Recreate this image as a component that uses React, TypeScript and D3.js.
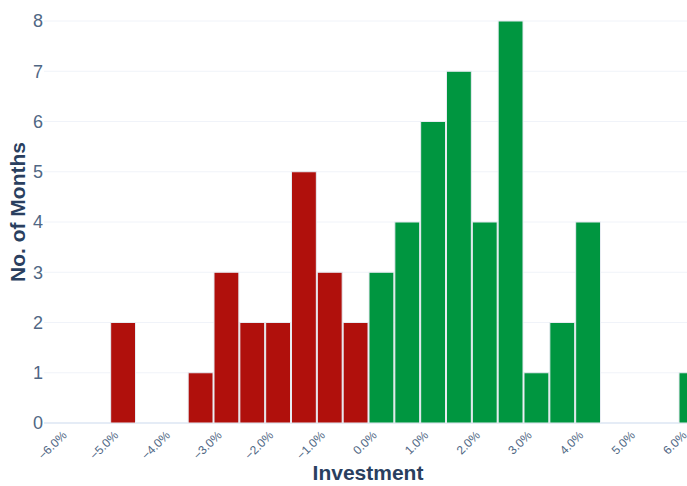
import React from "react";
import * as d3 from "d3";

const binStarts = [-5.0, -3.5, -3.0, -2.5, -2.0, -1.5, -1.0, -0.5, 0.0, 0.5, 1.0, 1.5, 2.0, 2.5, 3.0, 3.5, 4.0, 6.0];
const counts = [2, 1, 3, 2, 2, 5, 3, 2, 3, 4, 6, 7, 4, 8, 1, 2, 4, 1];
const binWidth = 0.5;
const xTicks = [-6, -5, -4, -3, -2, -1, 0, 1, 2, 3, 4, 5, 6];
const yTicks = [0, 1, 2, 3, 4, 5, 6, 7, 8];

const W = 687;
const H = 486;
const plotLeft = 44;
const plotRight = 687;

export default function App() {
  const x = d3.scaleLinear().domain([-6, 6]).range([58.5, 678.5]);
  const y = d3.scaleLinear().domain([0, 8]).range([423, 21]);
  const fmt = (v: number) => (v < 0 ? "\u2212" : "") + Math.abs(v).toFixed(1) + "%";
  return (
    <svg width={W} height={H} style={{ position: "absolute", left: 0, top: 0, fontFamily: "'Liberation Sans', Arial, sans-serif" }}>
      <rect x={0} y={0} width={W} height={H} fill="#fff" />
      <defs>
        <clipPath id="plotclip">
          <rect x={plotLeft} y={0} width={plotRight - plotLeft} height={424} />
        </clipPath>
      </defs>
      {yTicks.map((t) => (
        <line key={"g" + t} x1={plotLeft} x2={plotRight} y1={y(t)} y2={y(t)} stroke={t === 0 ? "#E5ECF6" : "#F0F3F9"} strokeWidth={t === 0 ? 2 : 1} />
      ))}
      <g clipPath="url(#plotclip)">
        {binStarts.map((b, i) => {
          const x0 = x(b);
          const x1 = x(b + binWidth);
          return (
            <rect
              key={"b" + i}
              x={x0 + 0.5}
              y={y(counts[i])}
              width={x1 - x0 - 1}
              height={y(0) - y(counts[i])}
              fill={b < 0 ? "#B0100C" : "#009640"}
              stroke="#E8ECF2"
              strokeWidth={1}
            />
          );
        })}
      </g>
      {yTicks.map((t) => (
        <text key={"yt" + t} x={43} y={y(t)} dy="0.35em" textAnchor="end" fontSize={18} fill="#506784">
          {t}
        </text>
      ))}
      {xTicks.map((t) => (
        <text
          key={"xt" + t}
          transform={`translate(${x(t) + 3},${430}) rotate(-45)`}
          dy="0.7em"
          textAnchor="end"
          fontSize={12}
          fill="#506784"
        >
          {fmt(t)}
        </text>
      ))}
      <text x={368} y={480} textAnchor="middle" fontSize={21} fontWeight="bold" fill="#2a3f5f">
        Investment
      </text>
      <text transform={`translate(25,212) rotate(-90)`} textAnchor="middle" fontSize={21} fontWeight="bold" fill="#2a3f5f">
        No. of Months
      </text>
    </svg>
  );
}
